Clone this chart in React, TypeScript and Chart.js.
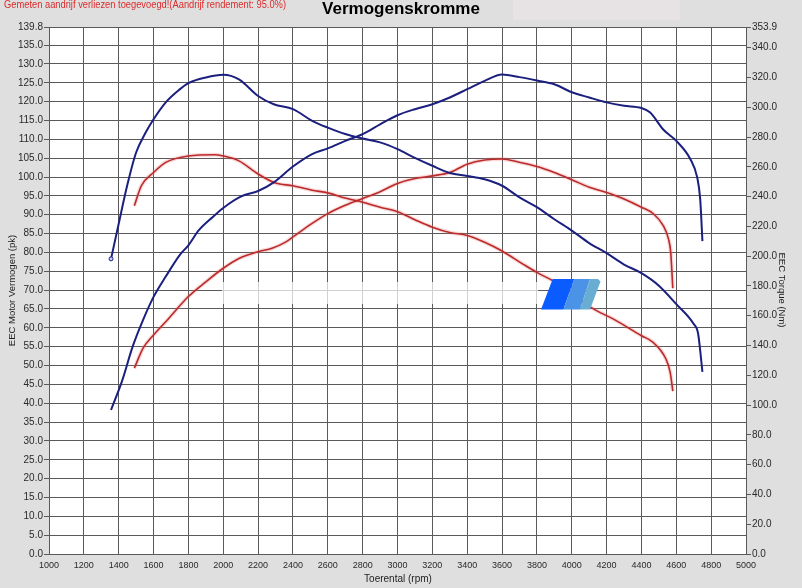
import { useEffect, useRef } from "react";
import { Chart, registerables } from "chart.js";
Chart.register(...registerables);

const FONT = '"Liberation Sans", Arial, sans-serif';

const xTicks = [1000, 1200, 1400, 1600, 1800, 2000, 2200, 2400, 2600, 2800, 3000, 3200, 3400, 3600, 3800, 4000, 4200, 4400, 4600, 4800, 5000];
const leftTicks = [0, 5, 10, 15, 20, 25, 30, 35, 40, 45, 50, 55, 60, 65, 70, 75, 80, 85, 90, 95, 100, 105, 110, 115, 120, 125, 130, 135, 139.8];
const rightTicks = [0, 20, 40, 60, 80, 100, 120, 140, 160, 180, 200, 220, 240, 260, 280, 300, 320, 340, 353.9];

// Blue power (pk)
const rpmBluePower = [1356, 1420, 1480, 1540, 1600, 1670, 1750, 1800, 1860, 1940, 2000, 2100, 2200, 2290, 2400, 2510, 2600, 2700, 2800, 2900, 3000, 3100, 3200, 3300, 3400, 3500, 3600, 3700, 3800, 3900, 4000, 4100, 4200, 4300, 4400, 4450, 4525, 4600, 4680, 4720, 4737, 4750];
const bluePower = [38.2, 46.0, 55.0, 62.1, 68.2, 73.6, 79.3, 81.9, 85.9, 89.4, 91.8, 94.8, 96.3, 98.6, 102.8, 106.1, 107.6, 109.6, 111.4, 114.0, 116.4, 118.0, 119.3, 121.1, 123.3, 125.5, 127.2, 126.5, 125.6, 124.6, 122.5, 121.1, 119.8, 118.9, 118.3, 117.1, 112.6, 109.6, 104.8, 99.9, 94.2, 83.0];

// Blue torque (Nm)
const rpmBlueTorque = [1356, 1400, 1450, 1500, 1550, 1600, 1670, 1750, 1800, 1900, 2000, 2090, 2200, 2290, 2400, 2510, 2600, 2700, 2800, 2900, 3000, 3100, 3200, 3300, 3400, 3500, 3600, 3700, 3800, 3900, 4000, 4100, 4200, 4300, 4400, 4500, 4600, 4700, 4725, 4750];
const blueTorque = [198.2, 221.8, 248.1, 269.6, 282.0, 291.9, 303.3, 312.0, 316.2, 320.0, 321.8, 318.7, 307.6, 302.0, 298.7, 290.9, 286.3, 282.0, 279.0, 276.4, 271.9, 266.0, 260.7, 255.9, 253.9, 251.6, 247.3, 239.5, 232.9, 224.8, 217.2, 208.8, 202.0, 194.4, 188.6, 180.2, 167.8, 154.4, 148.1, 122.3];

// Red power (pk)
const rpmRedPower = [1490, 1540, 1600, 1670, 1800, 1900, 2000, 2090, 2200, 2280, 2360, 2400, 2510, 2600, 2700, 2800, 2900, 3000, 3100, 3200, 3300, 3400, 3500, 3600, 3700, 3800, 3900, 4000, 4100, 4200, 4300, 4400, 4470, 4525, 4555, 4568, 4580];
const redPower = [49.3, 54.6, 58.1, 61.6, 68.3, 72.2, 75.8, 78.4, 80.2, 81.1, 82.8, 84.1, 87.7, 90.3, 92.5, 94.3, 96.1, 98.3, 99.6, 100.3, 101.2, 103.4, 104.5, 104.8, 103.9, 102.8, 101.2, 99.3, 97.3, 95.9, 94.2, 92.0, 90.2, 87.1, 83.6, 80.0, 70.5];

// Red torque (Nm)
const rpmRedTorque = [1490, 1530, 1600, 1670, 1800, 1950, 2000, 2090, 2200, 2300, 2400, 2510, 2600, 2700, 2800, 2900, 3000, 3100, 3200, 3300, 3400, 3500, 3600, 3720, 3800, 3900, 4000, 4110, 4240, 4400, 4465, 4540, 4565, 4580];
const redTorque = [233.9, 247.3, 256.2, 263.0, 267.3, 268.1, 267.3, 264.0, 255.2, 249.1, 247.3, 244.3, 242.5, 239.0, 236.2, 232.9, 229.9, 224.5, 219.5, 215.9, 213.9, 209.4, 203.5, 194.7, 189.1, 183.0, 175.9, 165.6, 157.7, 146.6, 142.3, 131.1, 122.0, 109.4];

const BLUE = "#1b1f7e";
const RED = "#bb2a2a";
const RED_HALO = "rgba(230,120,120,0.28)";

const pts = (xs: number[], ys: number[]) => xs.map((x, i) => ({ x, y: ys[i] }));

const line = (xs: number[], ys: number[], color: string, width: number, axis: string, extra: any = {}) => ({
  data: pts(xs, ys),
  borderColor: color,
  borderWidth: width,
  pointRadius: 0,
  cubicInterpolationMode: "monotone",
  fill: false,
  yAxisID: axis,
  ...extra,
});

const decor = {
  id: "decor",
  beforeDraw(chart: any) {
    const { ctx, chartArea: a, width, height } = chart;
    ctx.save();
    ctx.fillStyle = "#dfdfdf";
    ctx.fillRect(0, 0, width, height);
    ctx.fillStyle = "#e7e3e5";
    ctx.fillRect(513, 0, 167, 20);
    ctx.fillStyle = "#ffffff";
    ctx.fillRect(a.left, a.top, a.right - a.left, a.bottom - a.top);
    ctx.restore();
  },
  afterDatasetsDraw(chart: any) {
    const { ctx } = chart;
    ctx.save();
    // faint white watermark strip
    ctx.fillStyle = "rgba(255,255,255,0.72)";
    ctx.fillRect(222, 282, 316, 22);
    // logo
    const poly = (p: number[][], c: string) => {
      ctx.beginPath();
      ctx.moveTo(p[0][0], p[0][1]);
      for (let i = 1; i < p.length; i++) ctx.lineTo(p[i][0], p[i][1]);
      ctx.closePath();
      ctx.fillStyle = c;
      ctx.fill();
    };
    poly([[541, 309.5], [552.7, 279], [574.3, 279], [563.3, 309.5]], "#0a5cff");
    poly([[563.3, 309.5], [574.3, 279], [590, 279], [580, 309.5]], "#4a93e6");
    poly([[580, 309.5], [590, 279], [598, 279], [600.5, 281.5], [590, 309.5]], "#69aed2");
    ctx.restore();
  },
  afterDraw(chart: any) {
    const { ctx } = chart;
    ctx.save();
    // red note
    ctx.font = `10px ${FONT}`;
    ctx.fillStyle = "#dc2a2a";
    ctx.textBaseline = "middle";
    ctx.textAlign = "left";
    const note = "Gemeten aandrijf verliezen toegevoegd!(Aandrijf rendement: 95.0%)";
    const w = ctx.measureText(note).width;
    ctx.save();
    ctx.translate(4, 5.5);
    ctx.scale(282 / w, 1);
    ctx.fillText(note, 0, 0);
    ctx.restore();
    // title
    ctx.font = `bold 17px ${FONT}`;
    ctx.fillStyle = "#000";
    ctx.textAlign = "center";
    ctx.fillText("Vermogenskromme", 401, 9.5);
    // x title
    ctx.font = `10px ${FONT}`;
    ctx.fillStyle = "#222";
    ctx.fillText("Toerental (rpm)", 398, 579);
    // left title
    ctx.save();
    ctx.translate(12.5, 290.5);
    ctx.rotate(-Math.PI / 2);
    ctx.font = `9.5px ${FONT}`;
    ctx.fillText("EEC Motor Vermogen (pk)", 0, 0);
    ctx.restore();
    // right title
    ctx.save();
    ctx.translate(782, 290);
    ctx.rotate(Math.PI / 2);
    ctx.font = `9.5px ${FONT}`;
    ctx.fillText("EEC Torque (Nm)", 0, 0);
    ctx.restore();
    ctx.restore();
  },
};

export default function App() {
  const ref = useRef<HTMLCanvasElement | null>(null);
  useEffect(() => {
    if (!ref.current) return;
    const chart = new Chart(ref.current, {
      type: "line",
      data: {
        datasets: [
          line(rpmBluePower, bluePower, BLUE, 2, "y"),
          line(rpmBlueTorque, blueTorque, BLUE, 2, "y2", {
            pointRadius: (c: any) => (c.dataIndex === 0 ? 2 : 0),
            pointBackgroundColor: "#c8c8ff",
            pointBorderColor: BLUE,
            pointBorderWidth: 1,
          }),
          line(rpmRedPower, redPower, RED, 1.6, "y"),
          line(rpmRedTorque, redTorque, RED, 1.6, "y2"),
          line(rpmRedPower, redPower, RED_HALO, 4, "y"),
          line(rpmRedTorque, redTorque, RED_HALO, 4, "y2"),
        ] as any,
      },
      options: {
        responsive: false,
        animation: false,
        events: [],
        layout: { padding: { top: 27, left: 0, right: 0, bottom: 0 } },
        plugins: { legend: { display: false }, tooltip: { enabled: false }, title: { display: false } },
        scales: {
          x: {
            type: "linear",
            min: 1000,
            max: 5000,
            afterFit: (s: any) => { s.height = 34; },
            afterBuildTicks: (s: any) => { s.ticks = xTicks.map((v) => ({ value: v })); },
            grid: { color: "#5a5a5a", lineWidth: 1, drawTicks: false },
            border: { display: true, color: "#5a5a5a" },
            ticks: {
              autoSkip: false,
              maxRotation: 0,
              padding: 6,
              color: "#2a2a2a",
              font: { size: 9, family: FONT },
              callback: (v: any) => String(v),
            },
          },
          y: {
            type: "linear",
            position: "left",
            min: 0,
            max: 139.8,
            afterFit: (s: any) => { s.width = 49; },
            afterBuildTicks: (s: any) => { s.ticks = leftTicks.map((v) => ({ value: v })); },
            grid: { color: "#5a5a5a", lineWidth: 1, drawTicks: true, tickLength: 5 },
            border: { display: true, color: "#5a5a5a" },
            ticks: {
              autoSkip: false,
              padding: 1,
              color: "#2a2a2a",
              font: { size: 10, family: FONT },
              callback: (v: any) => Number(v).toFixed(1),
            },
          },
          y2: {
            type: "linear",
            position: "right",
            min: 0,
            max: 353.9,
            afterFit: (s: any) => { s.width = 56; },
            afterBuildTicks: (s: any) => { s.ticks = rightTicks.map((v) => ({ value: v })); },
            grid: { drawOnChartArea: false, color: "#5a5a5a", drawTicks: true, tickLength: 5 },
            border: { display: true, color: "#5a5a5a" },
            ticks: {
              autoSkip: false,
              padding: 1,
              color: "#2a2a2a",
              font: { size: 10, family: FONT },
              callback: (v: any) => Number(v).toFixed(1),
            },
          },
        },
      } as any,
      plugins: [decor],
    });
    return () => chart.destroy();
  }, []);
  return (
    <div style={{ position: "absolute", left: 0, top: 0, width: 802, height: 588 }}>
      <canvas ref={ref} width={802} height={588} style={{ display: "block" }} />
    </div>
  );
}
